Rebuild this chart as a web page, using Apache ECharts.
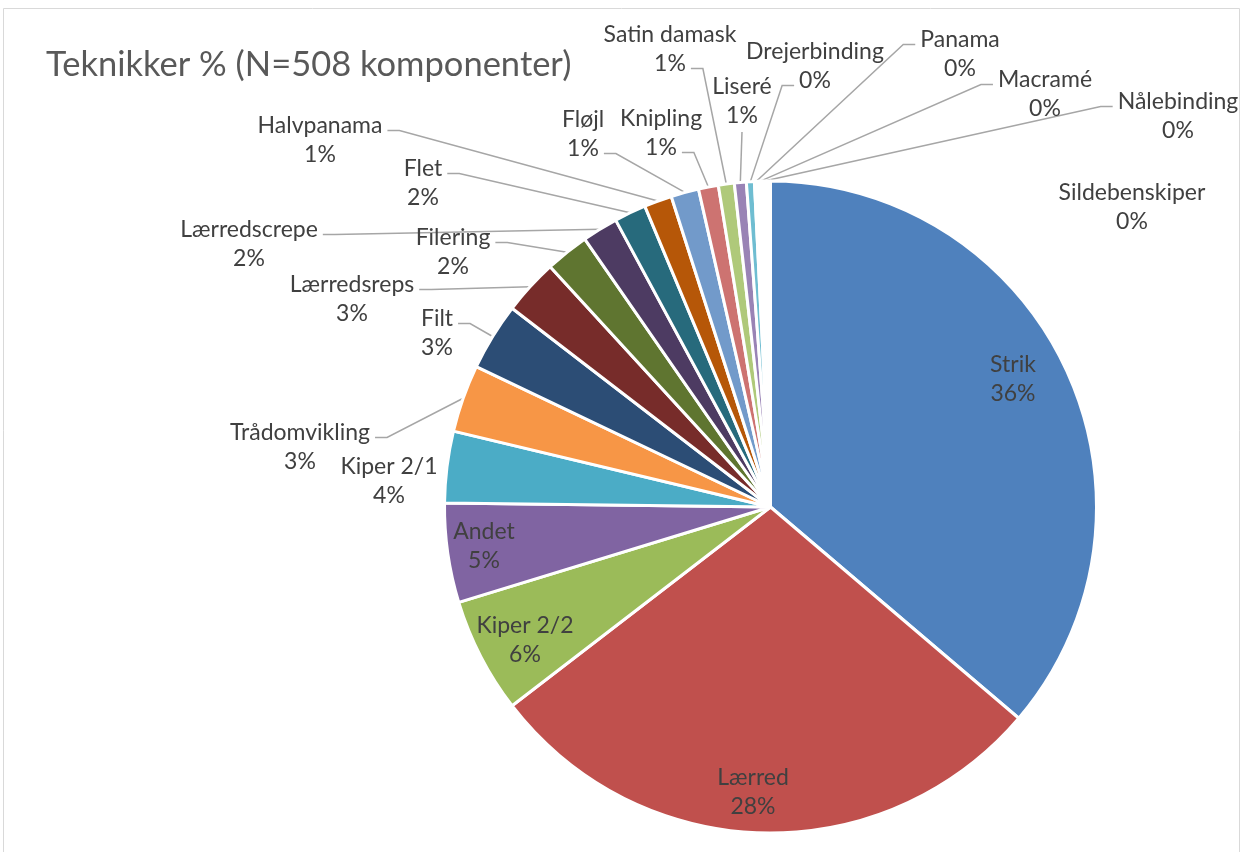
<!DOCTYPE html>
<html><head><meta charset="utf-8">
<script src="https://cdn.jsdelivr.net/npm/echarts@6/dist/echarts.min.js"></script>
<style>html,body{margin:0;padding:0;background:#fff}#c{width:1243px;height:852px}</style>
</head><body><div id="c"></div>
<script>
// ---- data ----
const chartTitle = 'Teknikker % (N=508 komponenter)';
const categories = ['Strik','Lærred','Kiper 2/2','Andet','Kiper 2/1','Trådomvikling','Filt','Lærredsreps','Filering','Lærredscrepe','Flet','Halvpanama','Fløjl','Knipling','Satin damask','Liseré','Drejerbinding','Panama','Macramé','Nålebinding','Sildebenskiper'];
const counts = [184,144,29,25,18,17,17,14,11,9,8,7,7,5,4,3,2,1,1,1,1];

// ---- style ----
// the four smallest slices are swallowed by the white slice borders in the reference
const sliceColors = ['#4F81BD','#C0504D','#9BBB59','#8064A2','#4BACC6','#F79646','#2C4D75','#772C2A','#5F7530','#4D3B62','#276A7C','#B65708','#729ACA','#CD7371','#AFC97A','#9983B5','#6FBDD1','#FFFFFF','#FFFFFF','#FFFFFF','#FFFFFF'];
const FONT = 'Lato';
const LABEL_SIZE = 23;
const LH = 29;
// label block centre + leader attachment (layout only)
const labelPlacement = {
  'Strik': [1013, 379, 'none'],
  'Lærred': [753, 792, 'none'],
  'Kiper 2/2': [525, 640, 'none'],
  'Andet': [484, 546, 'none'],
  'Kiper 2/1': [389, 481, 'none'],
  'Trådomvikling': [300, 447, 'r1'],
  'Filt': [437, 333, 'r1'],
  'Lærredsreps': [352, 299, 'r1'],
  'Filering': [453, 252, 'r1'],
  'Lærredscrepe': [249, 244, 'r1'],
  'Flet': [423, 183, 'r1'],
  'Halvpanama': [320, 140, 'r1'],
  'Fløjl': [583, 134, 'r2'],
  'Knipling': [661, 133, 'r2'],
  'Satin damask': [670, 49, 'r2'],
  'Liseré': [742, 101, 'b'],
  'Drejerbinding': [815, 66, 'l2'],
  'Panama': [960, 54, 'l1'],
  'Macramé': [1045, 94, 'l1'],
  'Nålebinding': [1178, 116, 'l1'],
  'Sildebenskiper': [1132, 207, 'none']
};

const total = counts.reduce((a, b) => a + b, 0);
const pctText = v => Math.round(v / total * 100) + '%';
const mctx = document.createElement('canvas').getContext('2d');
mctx.font = LABEL_SIZE + 'px ' + FONT;
const tw = s => mctx.measureText(s).width;

const data = categories.map((name, i) => {
  const noLine = labelPlacement[name][2] === 'none';
  return {
    name: name,
    value: counts[i],
    itemStyle: { color: sliceColors[i] },
    labelLine: { show: !noLine }
  };
});

const chart = echarts.init(document.getElementById('c'), null, { renderer: 'canvas' });
chart.setOption({
  backgroundColor: '#ffffff',
  animation: false,
  title: {
    text: chartTitle,
    left: 46, top: 47, padding: 0,
    textStyle: { fontFamily: FONT, fontSize: 34.5, fontWeight: 'normal', color: '#595959' }
  },
  graphic: [{
    type: 'rect', z: -10, silent: true,
    shape: { x: 3.5, y: 8.5, width: 1236, height: 860 },
    style: { fill: 'none', stroke: '#D9D9D9', lineWidth: 1 }
  }],
  series: [{
    type: 'pie',
    center: [770.5, 507],
    radius: [0, 326],
    startAngle: 90,
    clockwise: true,
    avoidLabelOverlap: false,
    data: data,
    itemStyle: { borderColor: '#ffffff', borderWidth: 3 },
    label: {
      show: true,
      position: 'outside',
      fontFamily: FONT,
      fontSize: LABEL_SIZE,
      lineHeight: LH,
      color: '#404040',
      align: 'center',
      formatter: p => p.name + '\n' + pctText(p.value)
    },
    labelLine: {
      show: true,
      length: 10, length2: 10,
      lineStyle: { color: '#A6A6A6', width: 1.5 }
    },
    labelLayout: function (params) {
      const name = categories[params.dataIndex];
      const pl = labelPlacement[name];
      const out = { x: pl[0], y: pl[1], align: 'center', verticalAlign: 'middle' };
      const att = pl[2];
      if (att !== 'none' && params.labelLinePoints) {
        const edge = params.labelLinePoints[0];
        const l1 = pl[1] - LH / 2 + 5, l2 = pl[1] + LH / 2 + 5;
        if (att === 'b') {
          out.labelLinePoints = [edge, [pl[0], pl[1] + LH + 2], [pl[0], pl[1] + LH + 2]];
        } else {
          const lineTxt = att[1] === '1' ? name : pctText(counts[params.dataIndex]);
          const w = tw(lineTxt);
          const y = att[1] === '1' ? l1 : l2;
          const dir = att[0] === 'r' ? 1 : -1;
          const ax = pl[0] + dir * (w / 2 + 5);
          const ex = ax + dir * 12;
          out.labelLinePoints = [edge, [ex, y], [ax, y]];
        }
      }
      return out;
    }
  }]
});
</script>
</body></html>
